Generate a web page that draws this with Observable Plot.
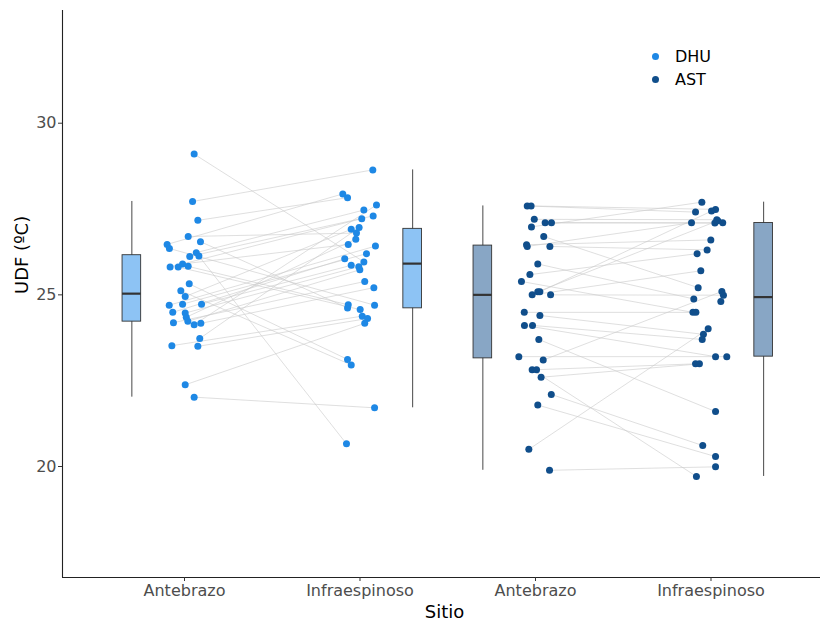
<!DOCTYPE html>
<html>
<head>
<meta charset="utf-8">
<script src="https://cdn.jsdelivr.net/npm/d3@7"></script>
<script src="https://cdn.jsdelivr.net/npm/@observablehq/plot@0.6"></script>
<style>
  html, body { margin: 0; padding: 0; background: #fff; }
  #wrap { position: relative; width: 820px; height: 626px; font-family: "DejaVu Sans", sans-serif; }
  #legend { position: absolute; left: 648px; top: 45px; font-size: 16px; color: #000; }
  #legend .row { display: flex; align-items: center; height: 23px; }
  #legend .sw { width: 7px; height: 7px; border-radius: 50%; margin-right: 16px; margin-left: 4px; }
</style>
</head>
<body>
<div id="wrap"><div id="legend"></div></div>
<script>
// ---- data ----
const sitios = ["Antebrazo", "Infraespinoso", "Antebrazo", "Infraespinoso"];
const grupos = ["DHU", "AST"];
const colores = ["#1E88E5", "#104E8B"];
const coloresCaja = ["#8DC3F4", "#88A6C5"];
const yTicks = [20, 25, 30];

// DHU – Antebrazo (paired by index with dhuInfra)
const dhuAnte = [29.10, 27.72, 27.17, 26.70, 26.55, 26.47, 26.35, 26.23, 26.13, 26.12, 25.81, 25.81, 25.90, 25.83, 25.32, 25.12,
                 24.95, 24.70, 24.73, 24.73, 24.49, 24.47, 24.35, 24.23, 24.19, 24.13, 24.17, 23.73, 23.52, 23.50, 22.38, 22.02];
const dhuAnteJit = [0.055, 0.046, 0.076, 0.021, 0.091, -0.099, -0.086, 0.067, 0.082, 0.030, -0.082, -0.036, -0.011, 0.021, 0.027, -0.021,
                    0.004, -0.087, -0.011, 0.097, -0.067, 0.004, 0.010, 0.019, -0.063, 0.055, 0.093, 0.087, -0.072, 0.076, 0.004, 0.055];
// DHU – Infraespinoso
const dhuInfra = [25.96, 28.64, 27.83, 26.80, 24.62, 27.94, 24.70, 27.47, 20.66, 27.30, 27.22, 24.57, 26.47, 24.71, 23.12, 22.96,
                  26.91, 26.42, 26.20, 25.86, 26.05, 25.82, 26.62, 25.73, 25.39, 27.62, 25.21, 26.96, 24.38, 24.31, 24.17, 21.71];
const dhuInfraJit = [0.022, 0.073, -0.071, -0.020, -0.071, -0.098, 0.083, 0.022, -0.077, 0.075, 0.010, 0.001, -0.067, -0.067, -0.071, -0.050,
                     -0.050, 0.088, 0.037, -0.050, -0.087, -0.007, -0.024, -0.001, 0.027, 0.094, 0.079, -0.005, 0.013, 0.043, 0.027, 0.083];

// AST – Antebrazo
const astAnte = [27.59, 27.59, 27.20, 27.10, 27.10, 26.98, 26.70, 26.46, 26.41, 26.41, 25.90, 25.59, 25.39, 25.09, 25.09, 25.00,
                 25.00, 24.49, 24.40, 24.11, 24.11, 23.70, 23.20, 23.10, 22.82, 22.82, 22.60, 22.10, 21.79, 20.50, 19.89];
const astAnteJit = [-0.047, -0.025, -0.007, 0.055, 0.091, -0.023, 0.047, -0.051, -0.047, 0.082, 0.013, -0.032, -0.080, 0.013, 0.025, -0.019,
                    0.086, -0.064, 0.025, -0.063, -0.017, 0.019, -0.095, 0.044, -0.019, 0.006, 0.032, 0.090, 0.013, -0.038, 0.080];
// AST – Infraespinoso (last value has no pair)
const astInfra = [27.41, 27.49, 27.19, 27.09, 27.10, 27.70, 25.21, 26.60, 27.10, 26.31, 24.88, 26.20, 24.49, 27.16, 27.44, 25.70,
                  24.99, 24.49, 23.85, 23.20, 23.70, 21.60, 23.20, 25.10, 19.71, 22.99, 22.99, 20.61, 20.29, 24.01, 19.99, 24.81];
const astInfraJit = [-0.088, 0.026, 0.033, 0.022, 0.067, -0.052, -0.073, -0.001, -0.111, -0.022, -0.098, -0.079, -0.103, 0.039, 0.003, -0.058,
                     0.071, -0.086, -0.043, 0.026, -0.050, 0.026, 0.090, 0.062, -0.083, -0.088, -0.066, -0.047, 0.026, -0.016, 0.026, 0.056];

// ---- layout constants ----
const boxShift = 0.3;     // boxes sit beside the points
const boxHalf = 0.053;

// ---- build tables ----
const series = [
  {g: 0, pos: 1, vals: dhuAnte, jit: dhuAnteJit, side: -1},
  {g: 0, pos: 2, vals: dhuInfra, jit: dhuInfraJit, side: 1},
  {g: 1, pos: 3, vals: astAnte, jit: astAnteJit, side: -1},
  {g: 1, pos: 4, vals: astInfra, jit: astInfraJit, side: 1}
];

const points = series.flatMap(s => s.vals.map((v, i) => ({g: s.g, x: s.pos + s.jit[i], y: v})));

const links = [];
[[series[0], series[1]], [series[2], series[3]]].forEach(([a, b]) => {
  const n = Math.min(a.vals.length, b.vals.length);
  for (let i = 0; i < n; i++) {
    links.push({x1: a.pos + a.jit[i], y1: a.vals[i], x2: b.pos + b.jit[i], y2: b.vals[i]});
  }
});

const stats = series.map(s => {
  const v = s.vals.slice().sort(d3.ascending);
  const q1 = d3.quantile(v, 0.25), med = d3.quantile(v, 0.5), q3 = d3.quantile(v, 0.75);
  const iqr = q3 - q1;
  const lo = d3.min(v.filter(d => d >= q1 - 1.5 * iqr));
  const hi = d3.max(v.filter(d => d <= q3 + 1.5 * iqr));
  const bx = s.pos + s.side * boxShift;
  return {g: s.g, bx, x1: bx - boxHalf, x2: bx + boxHalf, q1, med, q3, lo, hi};
});

const xDomain = [0.3048, 4.624];
const yDomain = [16.767, 33.283];

const chart = Plot.plot({
  width: 820,
  height: 626,
  marginLeft: 62,
  marginRight: 0,
  marginTop: 10,
  marginBottom: 49,
  style: {fontFamily: "DejaVu Sans, sans-serif", fontSize: "16px", background: "white", color: "black"},
  x: {type: "linear", domain: xDomain, axis: null},
  y: {domain: yDomain, axis: null},
  marks: [
    Plot.link(links, {x1: "x1", y1: "y1", x2: "x2", y2: "y2", stroke: "#c9c9c9", strokeWidth: 0.6}),
    Plot.ruleX(stats, {x: "bx", y1: "lo", y2: "hi", stroke: "#333", strokeWidth: 0.9}),
    Plot.rect(stats, {x1: "x1", x2: "x2", y1: "q1", y2: "q3", fill: d => coloresCaja[d.g], stroke: "#333", strokeWidth: 0.9}),
    Plot.ruleY(stats, {y: "med", x1: "x1", x2: "x2", stroke: "#333", strokeWidth: 2.2}),
    Plot.dot(points, {x: "x", y: "y", r: 3.5, fill: d => colores[d.g], stroke: "none"}),
    Plot.ruleX([xDomain[0]], {stroke: "#222", strokeWidth: 1.1}),
    Plot.ruleY([yDomain[0]], {stroke: "#222", strokeWidth: 1.1}),
    Plot.axisY(yTicks, {tickSize: 4, tickPadding: 2, fontSize: 16, fill: "#4D4D4D", stroke: "#333", label: null}),
    Plot.axisX([1, 2, 3, 4], {tickSize: 4, tickPadding: 3, fontSize: 16, fill: "#4D4D4D", stroke: "#333",
      tickFormat: i => sitios[i - 1], label: null}),
    Plot.text(["Sitio"], {text: d => d, frameAnchor: "bottom", dy: 40, dx: 3, fontSize: 18, fill: "#000"}),
    Plot.text(["UDF (ºC)"], {text: d => d, frameAnchor: "left", rotate: -90, dx: -40, fontSize: 18, fill: "#000"})
  ]
});

document.getElementById("wrap").prepend(chart);

const legend = document.getElementById("legend");
grupos.forEach((g, i) => {
  const row = document.createElement("div");
  row.className = "row";
  const sw = document.createElement("span");
  sw.className = "sw";
  sw.style.background = colores[i];
  const t = document.createElement("span");
  t.textContent = g;
  row.appendChild(sw);
  row.appendChild(t);
  legend.appendChild(row);
});
</script>
</body>
</html>
